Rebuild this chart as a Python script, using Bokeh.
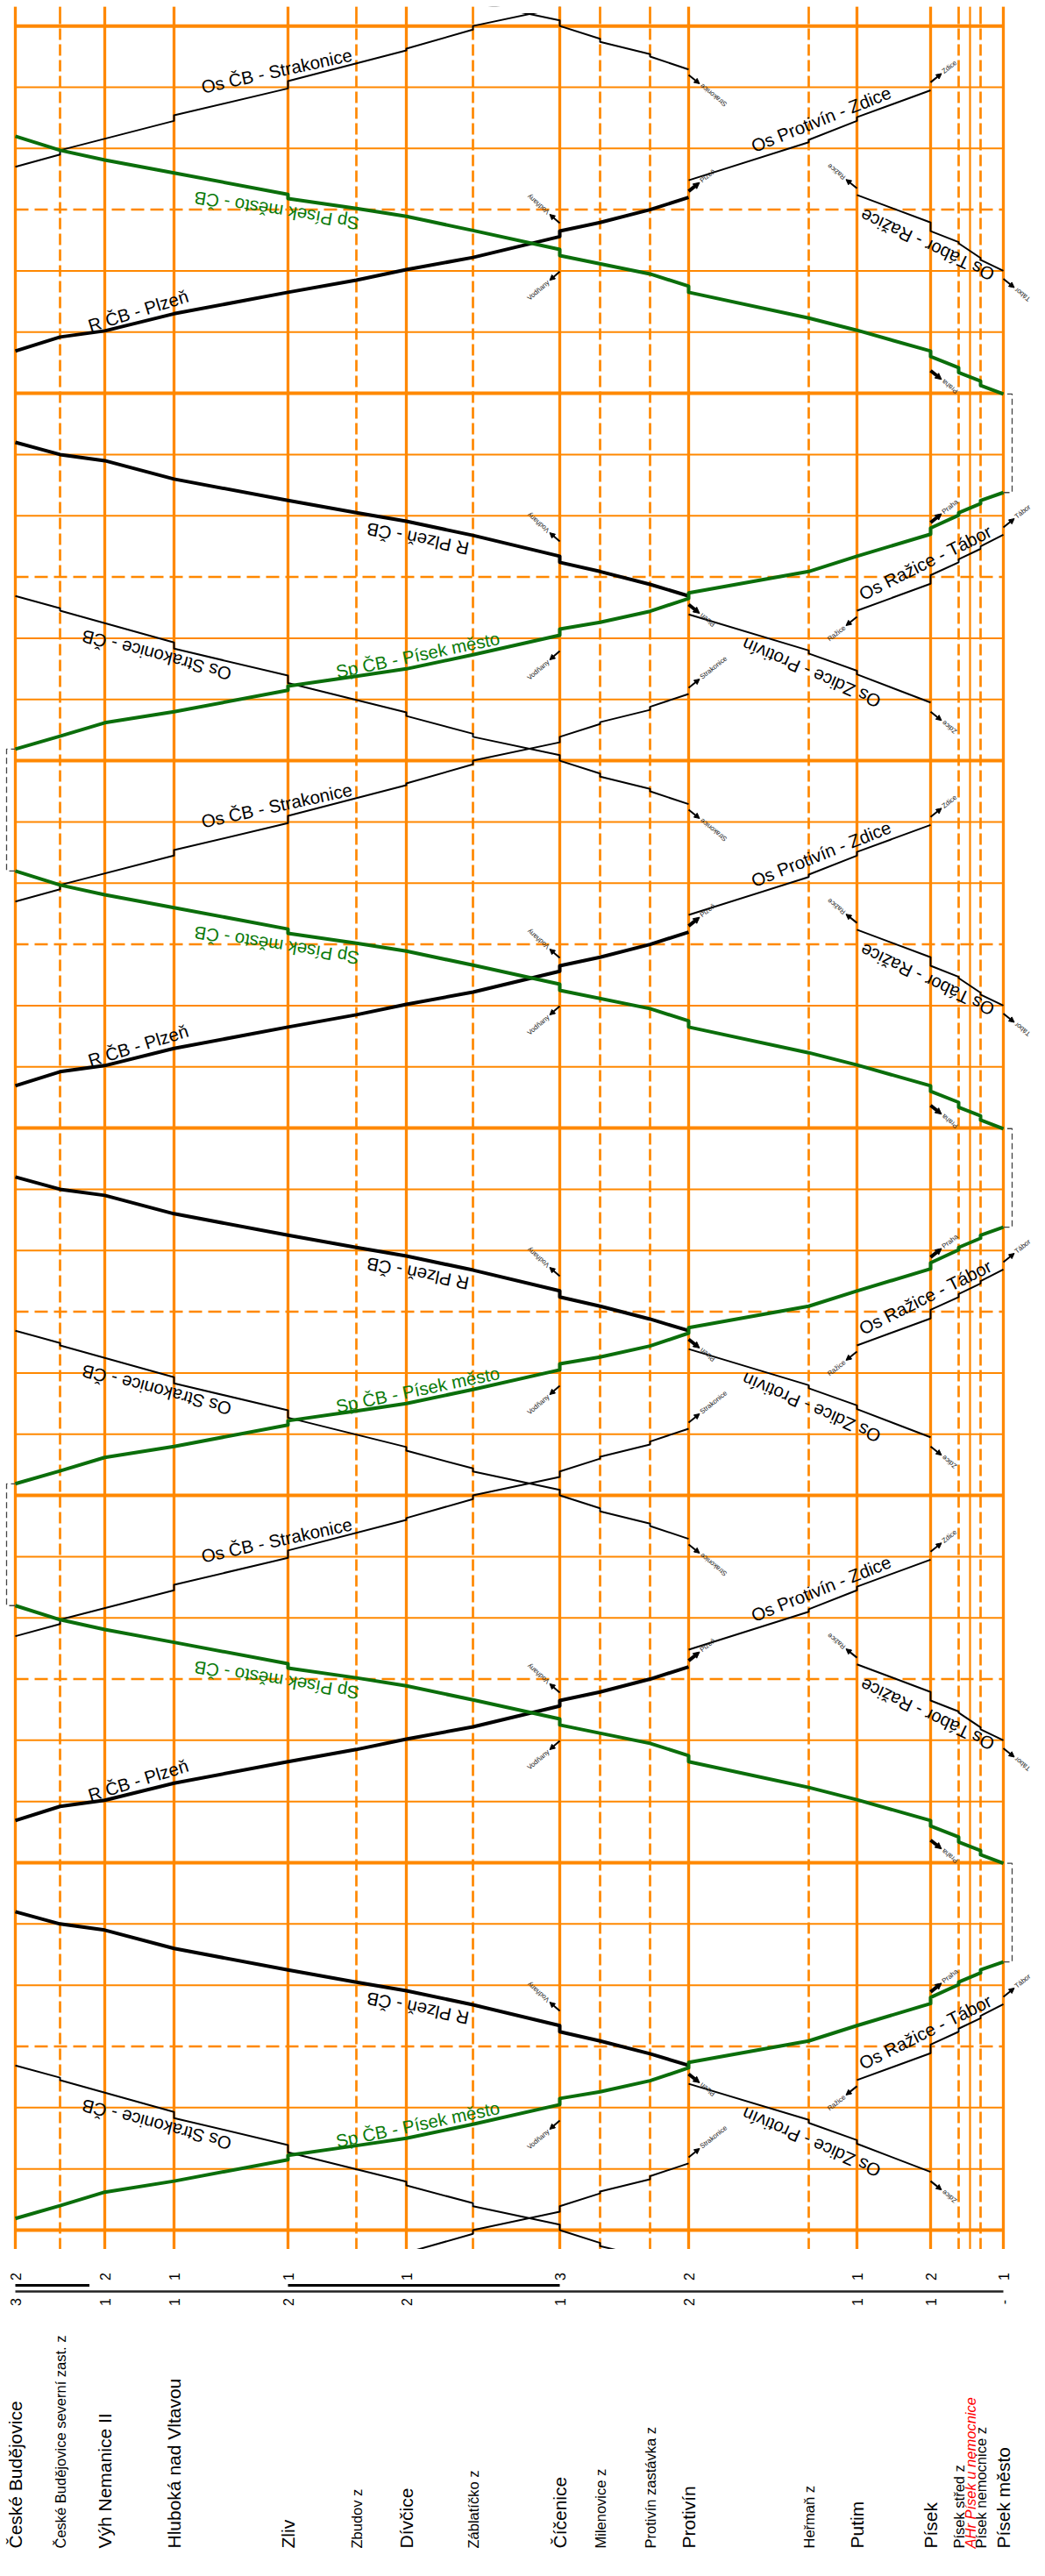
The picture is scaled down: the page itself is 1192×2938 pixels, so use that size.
import math
from bokeh.plotting import figure
from bokeh.models import Range1d, ColumnDataSource, Arrow, NormalHead
from bokeh.layouts import column
from bokeh.embed import file_html
from bokeh.resources import INLINE
from bokeh.core.properties import value

FONT = "Liberation Sans"
ORANGE = "#ff8800"
GREEN = "#0b6e0b"
GREEN_TXT = "#0a7a0a"

# ---------------- stations ----------------
stations = ["České Budějovice", "České Budějovice severní zast. z", "Výh Nemanice II",
            "Hluboká nad Vltavou", "Zliv", "Zbudov z", "Dívčice", "Záblatíčko z",
            "Číčenice", "Milenovice z", "Protivín zastávka z", "Protivín", "Heřmaň  z",
            "Putim", "Písek", "Písek střed  z", "AHr Písek u nemocnice",
            "Písek nemocnice  z", "Písek město"]
station_pos = [25, 76, 127, 206, 336, 414, 471, 547, 646, 692, 749, 793, 930, 985,
               1069, 1101, 1114, 1126, 1152]
station_kind = ["major", "stop", "major", "major", "major", "stop", "major", "stop",
                "major", "stop", "stop", "major", "stop", "major", "major", "stop",
                "ahr", "stop", "major"]
track_upper = {0: "2", 2: "2", 3: "1", 4: "1", 6: "1", 8: "3", 11: "2", 13: "1", 14: "2", 18: "1"}
track_lower = {0: "3", 2: "1", 3: "1", 4: "2", 6: "2", 8: "1", 11: "2", 13: "1", 14: "1", 18: "-"}

# ---------------- trains (minutes after departure from first station) ----------------
os_cb_str_st = [0, 1, 3, 4, 6, 7, 8, 9, 10, 11]
os_cb_str_arr = [0, 2.0, 7.5, 12.8, 19.0, 22.4, 26.0, 29.0, 31.3, 33.9]
os_cb_str_dep = [0, 2.7, 8.4, 14.0, 19.3, 23.0, 26.9, 29.3, 31.8, 33.9]
os_cb_str_runs = [-23.0, 97.0, 217.0, 337.0]

os_str_cb_st = [11, 10, 9, 8, 7, 6, 4, 3, 1, 0]
os_str_cb_arr = [0, 2.1, 4.5, 7.1, 11.0, 14.4, 19.8, 25.4, 31.6, 34.0]
os_str_cb_dep = [0, 2.5, 5.0, 8.0, 11.5, 15.0, 21.0, 26.4, 32.0, 34.0]
os_str_cb_runs = [-7.1, 112.9, 232.9, 352.9]

r_cb_plz_st = [0, 1, 2, 3, 4, 5, 6, 7, 8, 9, 10, 11]
r_cb_plz_arr = [0, 2.3, 3.3, 6.1, 9.6, 11.6, 13.3, 15.3, 18.7, 21.0, 23.1, 25.1]
r_cb_plz_dep = [0, 2.3, 3.3, 6.1, 9.6, 11.6, 13.3, 15.3, 19.6, 21.0, 23.1, 25.1]
r_cb_plz_runs = [66.9, 186.9, 306.9]

r_plz_cb_st = [11, 10, 9, 8, 7, 6, 5, 4, 3, 2, 1, 0]
r_plz_cb_arr = [0, 1.9, 4.0, 5.5, 9.9, 12.2, 13.6, 15.6, 19.1, 22.1, 23.1, 25.1]
r_plz_cb_dep = [0, 1.9, 4.0, 6.5, 9.9, 12.2, 13.6, 15.6, 19.1, 22.1, 23.1, 25.1]
r_plz_cb_runs = [26.9, 146.9, 266.9]

sp_cb_pis_st = [0, 1, 2, 3, 4, 5, 6, 7, 8, 9, 10, 11, 12, 13, 14, 15, 17, 18]
sp_cb_pis_arr = [0, 2.1, 4.3, 6.1, 9.6, 11.9, 13.1, 15.4, 18.6, 20.7, 22.5, 24.6, 29.0, 31.5, 35.1, 38.2, 40.1, 41.9]
sp_cb_pis_dep = [0, 2.1, 4.3, 6.1, 10.3, 11.9, 13.1, 15.4, 19.6, 20.7, 22.5, 25.5, 29.0, 31.5, 36.1, 38.6, 40.6, 41.9]
sp_cb_pis_runs = [1.9, 121.9, 241.9]

sp_pis_cb_st = [18, 17, 15, 14, 13, 12, 11, 10, 8, 7, 6, 5, 4, 3, 2, 1, 0]
sp_pis_cb_arr = [0, 1.4, 3.5, 6.1, 10.4, 12.4, 16.6, 19.6, 22.6, 26.7, 29.0, 30.3, 31.9, 36.1, 38.2, 39.8, 42.1]
sp_pis_cb_dep = [0, 2.1, 4.3, 7.0, 10.4, 12.4, 17.6, 19.6, 23.6, 26.7, 29.0, 30.3, 32.6, 36.1, 38.2, 39.8, 42.1]
sp_pis_cb_runs = [59.9, 179.9, 299.9]

os_prot_zd_st = [11, 12, 13, 14]
os_prot_zd_arr = [0, 6.2, 9.7, 14.7]
os_prot_zd_dep = [0, 6.6, 10.3, 14.7]
os_prot_zd_runs = [94.8, 214.8, 334.8]

os_zd_prot_st = [14, 13, 12, 11]
os_zd_prot_arr = [0, 4.6, 8.0, 14.4]
os_zd_prot_dep = [0, 5.2, 8.5, 14.4]
os_zd_prot_runs = [9.5, 129.5, 249.5]

os_tab_raz_st = [18, 17, 15, 14, 13]
os_tab_raz_arr = [0, 1.8, 4.5, 6.5, 12.4]
os_tab_raz_dep = [0, 2.1, 4.7, 7.9, 12.4]
os_tab_raz_runs = [80.0, 200.0, 320.0]

os_raz_tab_st = [13, 14, 15, 17, 18]
os_raz_tab_arr = [0, 4.4, 7.9, 10.1, 12.4]
os_raz_tab_dep = [0, 5.8, 8.4, 10.5, 12.4]
os_raz_tab_runs = [24.5, 144.5, 264.5]

# connections drawn as short arrows (absolute minutes)
to_praha = [38.9, 158.9, 278.9]
from_praha = [63.7, 183.7, 303.7]
to_vodnany = [35.8, 87.8, 155.8, 207.8, 275.8, 327.8]
from_vodnany = [17.9, 79.9, 137.9, 199.9, 257.9, 319.9]

trains = [
    dict(st=os_cb_str_st, arr=os_cb_str_arr, dep=os_cb_str_dep, runs=os_cb_str_runs,
         color="black", width=2, label="Os ČB - Strakonice", lx=323, lt=15.7, la=12.3,
         before=None, after=(34.9, "Strakonice")),
    dict(st=os_str_cb_st, arr=os_str_cb_arr, dep=os_str_cb_dep, runs=os_str_cb_runs,
         color="black", width=2, label="Os Strakonice - ČB", lx=186, lt=24.3, la=165.3,
         before=(-0.9, "Strakonice"), after=None),
    dict(st=r_cb_plz_st, arr=r_cb_plz_arr, dep=r_cb_plz_dep, runs=r_cb_plz_runs,
         color="black", width=4, label="R ČB - Plzeň", lx=165, lt=6.6, la=17.2,
         before=None, after=(26.1, "Plzeň")),
    dict(st=r_plz_cb_st, arr=r_plz_cb_arr, dep=r_plz_cb_dep, runs=r_plz_cb_runs,
         color="black", width=4, label="R Plzeň - ČB", lx=484, lt=9.3, la=168.7,
         before=(-1.4, "Plzeň"), after=None),
    dict(st=sp_cb_pis_st, arr=sp_cb_pis_arr, dep=sp_cb_pis_dep, runs=sp_cb_pis_runs,
         color=GREEN, width=4, label="Sp ČB - Písek město", lx=484, lt=15.4, la=11.8,
         before=None, after=None),
    dict(st=sp_pis_cb_st, arr=sp_pis_cb_arr, dep=sp_pis_cb_dep, runs=sp_pis_cb_runs,
         color=GREEN, width=4, label="Sp Písek město - ČB", lx=323, lt=29.9, la=170.9,
         before=None, after=None),
    dict(st=os_prot_zd_st, arr=os_prot_zd_arr, dep=os_prot_zd_dep, runs=os_prot_zd_runs,
         color="black", width=2, label="Os Protivín - Zdice", lx=944, lt=10.0, la=21.8,
         before=None, after=(16.0, "Zdice")),
    dict(st=os_zd_prot_st, arr=os_zd_prot_arr, dep=os_zd_prot_dep, runs=os_zd_prot_runs,
         color="black", width=2, label="Os Zdice - Protivín", lx=933, lt=4.8, la=156.5,
         before=(-1.5, "Zdice"), after=None),
    dict(st=os_tab_raz_st, arr=os_tab_raz_arr, dep=os_tab_raz_dep, runs=os_tab_raz_runs,
         color="black", width=2, label="Os Tábor - Ražice", lx=1065, lt=4.2, la=154.9,
         before=(-1.3, "Tábor"), after=(13.5, "Ražice")),
    dict(st=os_raz_tab_st, arr=os_raz_tab_arr, dep=os_raz_tab_dep, runs=os_raz_tab_runs,
         color="black", width=2, label="Os Ražice - Tábor", lx=1063, lt=7.9, la=26.5,
         before=(-1.0, "Ražice"), after=(13.6, "Tábor")),
]

# ---------------- figure geometry ----------------
T0, T1 = -3.15, 363.17          # visible minutes of the grid (bottom, top)
TRAIN_TOP = 362.1               # trains are drawn up to here
FRAME_H = 2558
PPM = FRAME_H / (T1 - T0)       # pixels per minute
X0, X1 = station_pos[0], station_pos[-1]

p = figure(width=1176, height=FRAME_H + 7, x_range=Range1d(8, 1184), y_range=Range1d(T0, T1),
           output_backend="svg", toolbar_location=None, min_border_top=7, min_border_bottom=0,
           min_border_left=0, min_border_right=0, x_axis_type=None, y_axis_type=None)
p.grid.visible = False
p.outline_line_color = None
p.background_fill_color = "white"
p.border_fill_color = "white"

# horizontal time grid
hour_t = [t for t in range(0, 361, 10) if t % 60 == 0]
half_t = [t for t in range(0, 361, 10) if t % 60 == 30]
ten_t = [t for t in range(0, 361, 10) if t % 30 != 0]
p.segment(x0=[X0] * len(ten_t), x1=[X1] * len(ten_t), y0=ten_t, y1=ten_t, line_color=ORANGE, line_width=2)
p.segment(x0=[X0] * len(half_t), x1=[X1] * len(half_t), y0=half_t, y1=half_t, line_color=ORANGE,
          line_width=2.5, line_dash="15 7")
p.segment(x0=[X0] * len(hour_t), x1=[X1] * len(hour_t), y0=hour_t, y1=hour_t, line_color=ORANGE, line_width=4)


def station_lines(y0, y1):
    for x, k in zip(station_pos, station_kind):
        if k == "major":
            p.segment(x0=[x], x1=[x], y0=[y0], y1=[y1], line_color=ORANGE, line_width=3.3)
        elif k == "ahr":
            p.segment(x0=[x], x1=[x], y0=[y0], y1=[y1], line_color=ORANGE, line_width=2.2)
        else:
            p.segment(x0=[x], x1=[x], y0=[y0], y1=[y1], line_color=ORANGE, line_width=2.7,
                      line_dash="13 5")


station_lines(T0, T1)


def path(tr, run):
    xs, ys = [], []
    for s, a, d in zip(tr["st"], tr["arr"], tr["dep"]):
        xs += [station_pos[s], station_pos[s]]
        ys += [run + a, run + d]
    return xs, ys


# turnaround brackets (dashed)
def bracket(x_station, x_out, t_a, t_b):
    return [x_station, x_out, x_out, x_station], [t_a, t_a, t_b, t_b]


bxs, bys = [], []
sp_out, sp_in = trains[4], trains[5]
for r_in in sp_in["runs"]:
    arr_cb = r_in + sp_in["arr"][-1]
    nxt = [r for r in sp_out["runs"] if r > arr_cb]
    if nxt and nxt[0] < TRAIN_TOP:
        bx, by = bracket(X0, X0 - 10, arr_cb, nxt[0])
        bxs.append(bx); bys.append(by)
for r_out in sp_out["runs"]:
    arr_pm = r_out + sp_out["arr"][-1]
    nxt = [r for r in sp_in["runs"] if r > arr_pm]
    if nxt:
        bx, by = bracket(X1, X1 + 10, arr_pm, nxt[0])
        bxs.append(bx); bys.append(by)
p.multi_line(xs=bxs, ys=bys, line_color="#444444", line_width=1.3, line_dash="7 4")

# trains
for tr in trains:
    xs, ys = [], []
    for run in tr["runs"]:
        if run > TRAIN_TOP:
            continue
        a, b_ = path(tr, run)
        xs.append(a); ys.append(b_)
    p.multi_line(xs=xs, ys=ys, line_color=tr["color"], line_width=tr["width"], line_join="round")

# the trains end a little below the top of the grid: blank that strip, redraw the grid there
p.quad(left=[8], right=[1184], bottom=[TRAIN_TOP], top=[T1 + 1], fill_color="white", line_color=None)
station_lines(TRAIN_TOP, T1)

# train labels
for tr in trains:
    lx, lt = [], []
    for run in tr["runs"]:
        t = run + tr["lt"]
        if T0 + 2 < t < T1 - 2:
            lx.append(tr["lx"]); lt.append(t)
    col = GREEN_TXT if tr["color"] == GREEN else "black"
    if lx:
        p.text(x=lx, y=lt, text=[tr["label"]] * len(lx), angle=tr["la"], angle_units="deg",
               text_align="center", text_baseline="middle", text_font=value(FONT),
               text_font_size="20.5px", text_color=col)

# connection arrows
ADX, ADT = 12.5, 10 / PPM
arrows_thin = dict(x0=[], y0=[], x1=[], y1=[])
arrows_thick = dict(x0=[], y0=[], x1=[], y1=[])
alab = dict(x=[], y=[], text=[], angle=[], align=[])


def add_arrow(x, t, dirx, dirt, text, thick, adx=ADX, adt=ADT):
    if not (T0 < t < TRAIN_TOP):
        return
    x1, t1 = x + dirx * adx, t + dirt * adt
    d = arrows_thick if thick else arrows_thin
    d["x0"].append(x); d["y0"].append(t); d["x1"].append(x1); d["y1"].append(t1)
    lx, lt = x1 + dirx * 1.5, t1 + dirt * 1.5 / PPM
    if dirt > 0:
        ang = math.degrees(math.atan2(adt * PPM, dirx * adx)); al = "left"
    else:
        ang = math.degrees(math.atan2(adt * PPM, -dirx * adx)); al = "right"
    alab["x"].append(lx); alab["y"].append(lt); alab["text"].append(text)
    alab["angle"].append(ang); alab["align"].append(al)


for tr in trains:
    dirx = 1 if station_pos[tr["st"][-1]] > station_pos[tr["st"][0]] else -1
    thick = tr["width"] > 3
    for run in tr["runs"]:
        if tr["before"]:
            rel, text = tr["before"]
            add_arrow(station_pos[tr["st"][0]], run + rel, -dirx, -1, text, thick)
        if tr["after"]:
            rel, text = tr["after"]
            add_arrow(station_pos[tr["st"][-1]], run + rel, dirx, 1, text, thick)

for t in to_praha:
    add_arrow(station_pos[14], t, 1, 1, "Praha", True)
for t in from_praha:
    add_arrow(station_pos[14], t, 1, -1, "Praha", True)
for t in to_vodnany:
    add_arrow(station_pos[8], t, -1, 1, "Vodňany", False, 11.5, 10 / PPM)
for t in from_vodnany:
    add_arrow(station_pos[8], t, -1, -1, "Vodňany", False, 11.5, 10 / PPM)

p.add_layout(Arrow(end=NormalHead(size=6, fill_color="black", line_color="black", line_width=1),
                   source=ColumnDataSource(arrows_thin), x_start="x0", y_start="y0",
                   x_end="x1", y_end="y1", line_width=2, line_color="black"))
p.add_layout(Arrow(end=NormalHead(size=7, fill_color="black", line_color="black", line_width=1),
                   source=ColumnDataSource(arrows_thick), x_start="x0", y_start="y0",
                   x_end="x1", y_end="y1", line_width=4, line_color="black"))
for al in ("left", "right"):
    idx = [i for i, a in enumerate(alab["align"]) if a == al]
    p.text(x=[alab["x"][i] for i in idx], y=[alab["y"][i] for i in idx],
           text=[alab["text"][i] for i in idx], angle=[alab["angle"][i] for i in idx],
           angle_units="deg", text_align=al, text_baseline="middle", text_font=value(FONT),
           text_font_size="7.8px", text_color="#222222")

# ---------------- bottom: track diagram + station names ----------------
BH = 357
b = figure(width=1176, height=BH, x_range=p.x_range, y_range=Range1d(0, BH),
           output_backend="svg", toolbar_location=None, min_border=0,
           x_axis_type=None, y_axis_type=None)
b.grid.visible = False
b.outline_line_color = None

b.line(x=[X0, X1], y=[309, 309], line_color="#222222", line_width=2.5)
b.line(x=[station_pos[0], (station_pos[1] + station_pos[2]) / 2 + 8], y=[316, 316],
       line_color="black", line_width=3)
b.line(x=[station_pos[4], station_pos[8]], y=[316, 316], line_color="black", line_width=3)

ux = [station_pos[i] for i in track_upper]
b.text(x=ux, y=[326] * len(ux), text=list(track_upper.values()), angle=90, angle_units="deg",
       text_align="center", text_baseline="middle", text_font=value(FONT), text_font_size="16px")
lx_ = [station_pos[i] for i in track_lower]
b.text(x=lx_, y=[297] * len(lx_), text=list(track_lower.values()), angle=90, angle_units="deg",
       text_align="center", text_baseline="middle", text_font=value(FONT), text_font_size="16px")

for name, x, k in zip(stations, station_pos, station_kind):
    if k == "major":
        b.text(x=[x], y=[16], text=[name], angle=90, angle_units="deg", text_align="left",
               text_baseline="middle", text_font=value(FONT), text_font_size="21px", text_color="black")
    elif k == "ahr":
        b.text(x=[x], y=[16], text=[name], angle=90, angle_units="deg", text_align="left",
               text_baseline="middle", text_font=value(FONT), text_font_size="16.5px",
               text_color="red", text_font_style="italic")
    else:
        b.text(x=[x], y=[16], text=[name], angle=90, angle_units="deg", text_align="left",
               text_baseline="middle", text_font=value(FONT), text_font_size="16.5px", text_color="black")

layout = column(p, b, spacing=0)
open("out.html", "w").write(file_html(layout, INLINE))
